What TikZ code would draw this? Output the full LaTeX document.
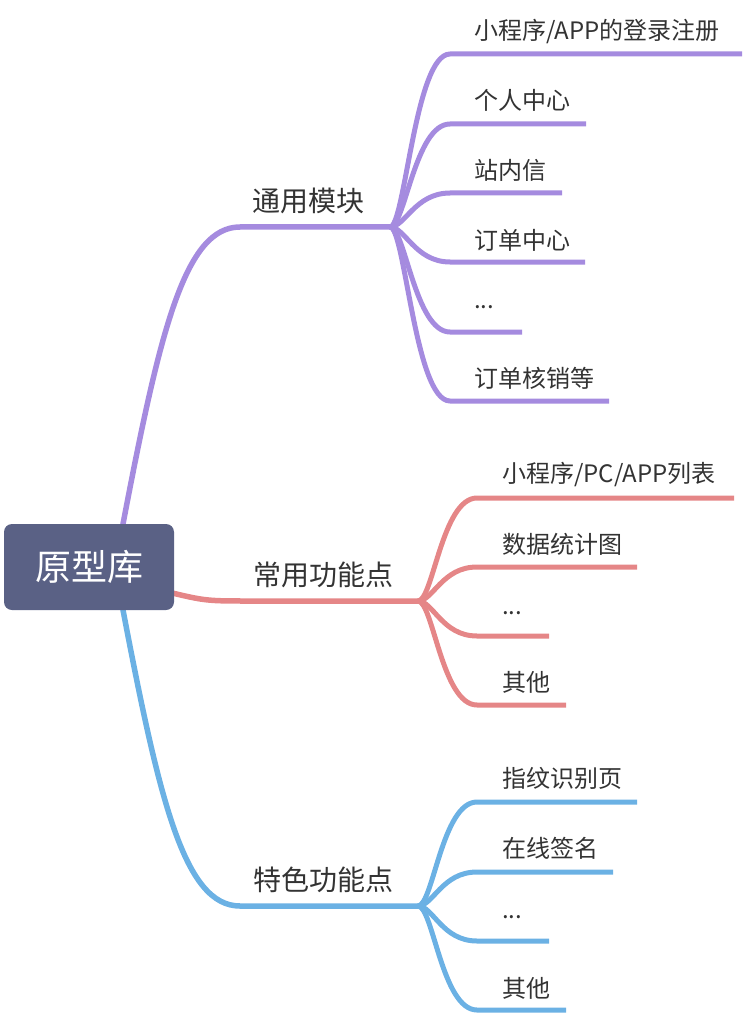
\documentclass[tikz,border=0pt]{standalone}
\usepackage{fontspec}
\setmainfont{Noto Sans CJK SC}
\definecolor{cpurple}{HTML}{A58BDF}
\definecolor{cred}{HTML}{E58687}
\definecolor{cblue}{HTML}{6BB1E4}
\definecolor{croot}{HTML}{5A6185}
\definecolor{ctext}{HTML}{333333}
\begin{document}
\begin{tikzpicture}[x=1pt,y=-1pt,
  mainline/.style={line width=5.5pt},
  subline/.style={line width=5pt},
  leaf/.style={anchor=west,inner sep=0pt,text=ctext,font=\fontsize{24pt}{28pt}\selectfont},
  branch/.style={anchor=center,inner sep=0pt,text=ctext,font=\fontsize{28pt}{32pt}\selectfont},
  rootbox/.style={fill=croot,rounded corners=8pt,inner sep=0pt,minimum width=170pt,minimum height=86pt,text=white,font=\fontsize{36pt}{40pt}\selectfont}]
\useasboundingbox (0,0) rectangle (742,1016);

% hubs and anchors on the root
\coordinate (rtop) at (121,540);
\coordinate (rtopedge) at (123,524);
\coordinate (rright) at (160,590);
\coordinate (rbot) at (121,594);
\coordinate (rbotedge) at (123,610);
\coordinate (hA) at (390,227);
\coordinate (hB) at (418,601);
\coordinate (hC) at (418,906);

% main branches
\draw[cpurple,mainline] (rtop) -- (rtopedge) .. controls (160,330) and (185,227) .. (240,227) -- (hA);
\draw[cred,mainline] (rright) .. controls (205,601) and (205,601) .. (250,601) -- (hB);
\draw[cblue,mainline] (rbot) -- (rbotedge) .. controls (160,804) and (185,906) .. (240,906) -- (hC);

% purple children
\coordinate (a1s) at (450,54);  \coordinate (a1e) at (742,54);
\coordinate (a2s) at (450,124); \coordinate (a2e) at (586,124);
\coordinate (a3s) at (450,193); \coordinate (a3e) at (562,193);
\coordinate (a4s) at (450,262); \coordinate (a4e) at (585,262);
\coordinate (a5s) at (450,332); \coordinate (a5e) at (522,332);
\coordinate (a6s) at (450,401); \coordinate (a6e) at (609,401);
\foreach \i in {1,...,6}{
  \draw[cpurple,subline] (hA) .. controls +(15,0) and +(-35,0) .. (a\i s) -- (a\i e);
}
% red children
\coordinate (b1s) at (477,498); \coordinate (b1e) at (734,498);
\coordinate (b2s) at (477,567); \coordinate (b2e) at (637,567);
\coordinate (b3s) at (477,636); \coordinate (b3e) at (549,636);
\coordinate (b4s) at (477,705); \coordinate (b4e) at (566,705);
\foreach \i in {1,...,4}{
  \draw[cred,subline] (hB) .. controls +(15,0) and +(-35,0) .. (b\i s) -- (b\i e);
}
% blue children
\coordinate (c1s) at (477,802); \coordinate (c1e) at (637,802);
\coordinate (c2s) at (477,872); \coordinate (c2e) at (613,872);
\coordinate (c3s) at (477,941); \coordinate (c3e) at (549,941);
\coordinate (c4s) at (477,1010); \coordinate (c4e) at (566,1010);
\foreach \i in {1,...,4}{
  \draw[cblue,subline] (hC) .. controls +(15,0) and +(-35,0) .. (c\i s) -- (c\i e);
}

% root
\node[rootbox] (root) at (89,567) {原型库};

% branch labels
\node[branch] (nA) at (308,201) {通用模块};
\node[branch] (nB) at (323,575) {常用功能点};
\node[branch] (nC) at (323,880) {特色功能点};

% leaves
\node[leaf] (la1) at (474,32) {小程序/APP的登录注册};
\node[leaf] (la2) at (474,100) {个人中心};
\node[leaf] (la3) at (474,170) {站内信};
\node[leaf] (la4) at (474,240) {订单中心};
\node[leaf] (la5) at (474,307) {...};
\node[leaf] (la6) at (474,378) {订单核销等};

\node[leaf] (lb1) at (502,475) {小程序/PC/APP列表};
\node[leaf] (lb2) at (502,544) {数据统计图};
\node[leaf] (lb3) at (502,613) {...};
\node[leaf] (lb4) at (502,682) {其他};

\node[leaf] (lc1) at (502,778) {指纹识别页};
\node[leaf] (lc2) at (502,848) {在线签名};
\node[leaf] (lc3) at (502,917) {...};
\node[leaf] (lc4) at (502,988) {其他};
\end{tikzpicture}
\end{document}
